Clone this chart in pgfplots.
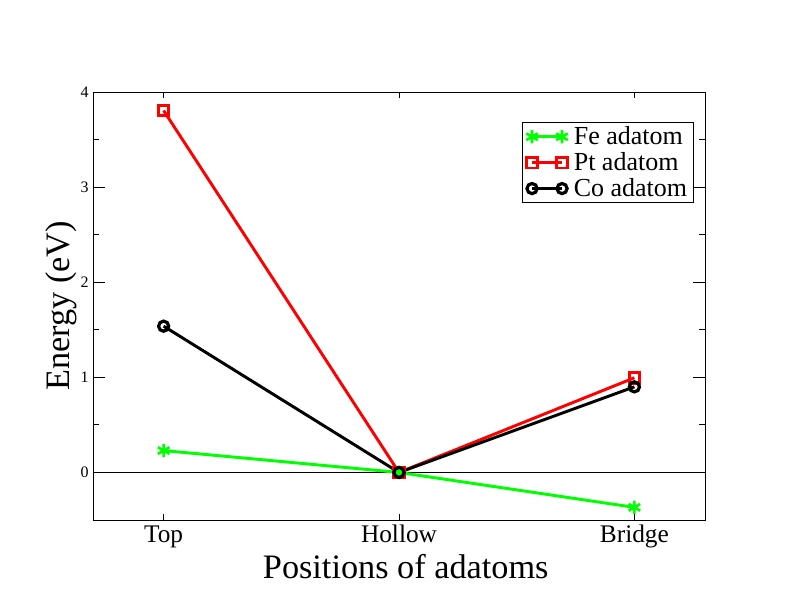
\documentclass[border=0pt]{standalone}
\usepackage{fontspec}
\setmainfont{Liberation Serif}
\usepackage{pgfplots}
\pgfplotsset{compat=1.18}
\begin{document}
\begin{tikzpicture}
\useasboundingbox (0,0) rectangle (594pt,459pt);
\begin{axis}[
  at={(69.75pt,69pt)}, anchor=south west,
  scale only axis, width=459pt, height=321pt,
  xmin=-0.3, xmax=2.3, ymin=-0.5, ymax=4,
  xtick={0,1,2}, xticklabels={Top,Hollow,Bridge},
  ytick={0,1,2,3,4},
  minor ytick={-0.5,0.5,1.5,2.5,3.5},
  tick align=inside,
  axis line style={line width=0.75pt},
  every tick/.style={black, line width=0.75pt},
  x tick style={draw=none},
  major tick length=9pt,
  minor tick length=4.5pt,
  /pgf/number format/assume math mode=true,
  yticklabel style={font=\fontsize{12}{12}\selectfont, anchor=east, inner xsep=3pt},
  xticklabel style={font=\fontsize{19}{19}\selectfont, anchor=base, yshift=-16.5pt},
  xlabel={Positions of adatoms},
  ylabel={Energy (eV)},
  xlabel style={font=\fontsize{25.7}{26}\selectfont, at={(axis description cs:0.511,-0.1355)}, anchor=base},
  ylabel style={font=\fontsize{25.7}{26}\selectfont, at={(axis description cs:-0.0376,0.5)}, anchor=base},
  legend style={at={(0.9815,0.930)}, anchor=north east, draw=black, line width=0.75pt,
    font=\fontsize{19.5}{19.5}\selectfont, inner xsep=3pt, inner ysep=1pt,
    nodes={inner xsep=1.5pt, inner ysep=2.2pt}, column sep=3pt, cells={anchor=west}},
  legend image code/.code={\draw[mark repeat=2,mark phase=1,#1] plot coordinates {(0pt,0pt) (11.25pt,0pt) (22.5pt,0pt)};},
  clip=false,
]
\addplot[black, line width=0.75pt, forget plot] coordinates {(-0.3,0) (2.3,0)};
\foreach \t in {0,1,2} {
  \edef\tmp{\noexpand\draw[black, line width=0.75pt] (axis cs:\t,-0.5) -- ([yshift=4.5pt]axis cs:\t,-0.5);
    \noexpand\draw[black, line width=0.75pt] (axis cs:\t,4) -- ([yshift=-4.5pt]axis cs:\t,4);}
  \tmp
}
\addplot[color={rgb,255:red,0;green,255;blue,0}, line width=2.2pt, mark=asterisk, mark size=5pt, mark options={line width=2pt}]
  coordinates {(0,0.23) (1,0) (2,-0.367)};
\addlegendentry{Fe adatom}
\addplot[red, line width=2.2pt, mark=square, mark size=4pt, mark options={line width=2.2pt}]
  coordinates {(0,3.805) (1,0) (2,0.995)};
\addlegendentry{Pt adatom}
\addplot[black, line width=2.2pt, mark=o, mark size=3.8pt, mark options={line width=2.4pt}]
  coordinates {(0,1.538) (1,0) (2,0.90)};
\addlegendentry{Co adatom}
\end{axis}
\end{tikzpicture}
\end{document}
